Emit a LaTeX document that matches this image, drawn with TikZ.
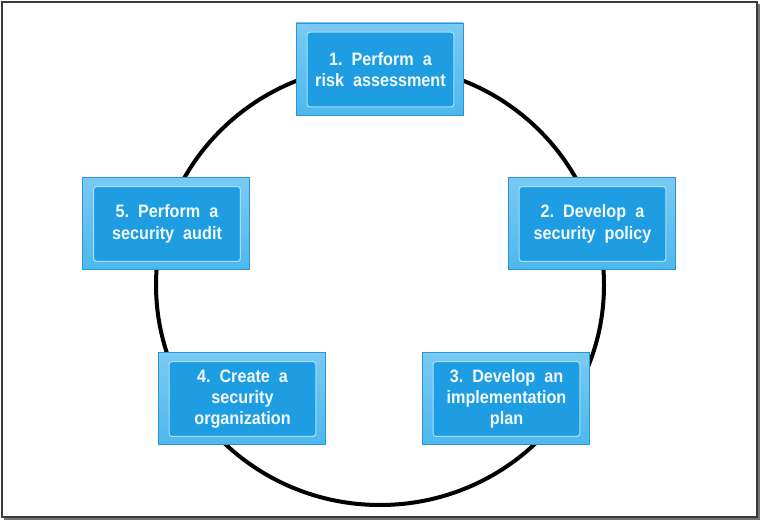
\documentclass[tikz,border=0pt]{standalone}
\usepackage{fontspec}
\setmainfont{Liberation Sans}
\newfontfamily\boxfont[FakeStretch=0.9]{Liberation Sans}
\definecolor{boxout}{HTML}{4DB8EE}
\definecolor{boxedge}{HTML}{2A95D6}
\definecolor{boxin}{HTML}{1E9DE2}
\definecolor{boxline}{HTML}{A8DEF8}
\definecolor{boxtext}{HTML}{F2FAFE}
\definecolor{frame}{HTML}{3A3A3A}
\tikzset{
  outerbox/.style={draw=boxedge, line width=0.6pt, top color=boxout!75!white, bottom color=boxout, minimum width=125.25pt, minimum height=69pt, inner sep=0pt},
  innerbox/.style={draw=boxline, line width=0.8pt, fill=boxin, rounded corners=2pt, minimum width=110pt, minimum height=56pt, inner sep=1pt, align=center, text=boxtext, font=\boxfont\bfseries\fontsize{13.5}{16}\selectfont},
}
\begin{document}
\begin{tikzpicture}[x=0.75pt,y=-0.75pt]
\useasboundingbox (0,0) rectangle (760,520);
\fill[white] (0,0) rectangle (760,520);
\draw[frame, line width=1.5pt] (2,2) rectangle (757,517);
\draw[frame!70, line width=1pt] (759,4) -- (759,519) -- (4,519);
% circle
\draw[black, line width=3pt] (380,285) ellipse [x radius=224, y radius=220];
% boxes
\node[outerbox] (o1) at (379.5,69) {};
\node[innerbox] (b1) at (380.5,69.5) {1.\ \ Perform\ \ a\\risk\ \ assessment};
\node[outerbox] (o2) at (591.5,223.5) {};
\node[innerbox] (b2) at (592.5,224) {2.\ \ Develop\ \ a\\security\ \ policy};
\node[outerbox] (o5) at (166,223.5) {};
\node[innerbox] (b5) at (167,224) {5.\ \ Perform\ \ a\\security\ \ audit};
\node[outerbox] (o4) at (241.5,398.5) {};
\node[innerbox] (b4) at (242.5,399) {4.\ \ Create\ \ a\\security\\organization};
\node[outerbox] (o3) at (505.5,398.5) {};
\node[innerbox] (b3) at (506.5,399) {3.\ \ Develop\ \ an\\implementation\\plan};
\end{tikzpicture}
\end{document}
